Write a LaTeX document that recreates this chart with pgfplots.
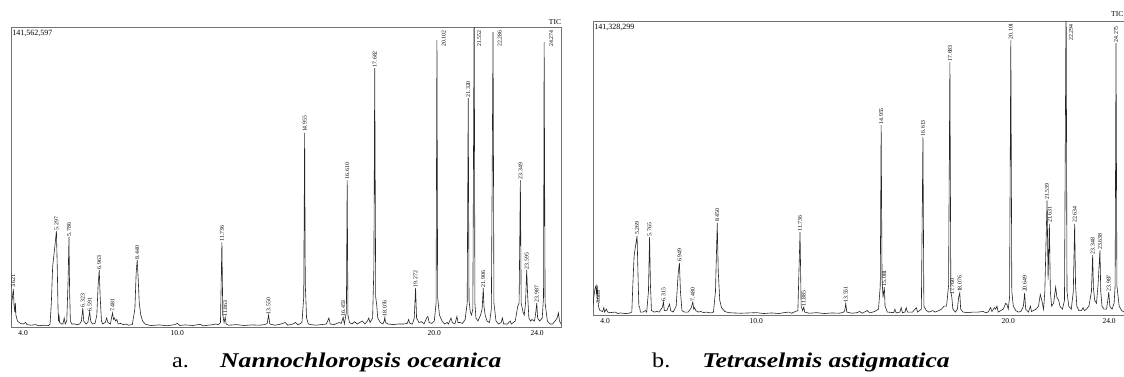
\documentclass[border=0pt]{standalone}
\usepackage{pgfplots}
\pgfplotsset{compat=1.18}
\usepackage{fontspec}
\setmainfont{Liberation Serif}
\newcommand{\lab}{\fontsize{5.8}{6}\selectfont}
\newcommand{\pk}[3]{\node[rotate=90,anchor=west,font=\lab,inner sep=0.8pt] at (axis cs:#1,#2) {#3};}
\newcommand{\pkt}[3]{\node[rotate=90,anchor=east,font=\lab,inner sep=0.8pt] at (axis cs:#1,#2) {#3};}
\pgfplotsset{chrom/.style={
  scale only axis, anchor=south west, ymin=0, ymax=100,
  clip mode=individual,
  axis line style={draw=black!55, line width=0.9pt},
  xtick={4,10,20,24}, xticklabels={4.0,10.0,20.0,24.0},
  ytick=\empty, major tick length=0pt,
  xticklabel style={font=\fontsize{7.5}{8}\selectfont},
  /pgf/number format/assume math mode=true
}}
\begin{document}
\begin{tikzpicture}
\useasboundingbox (0,0) rectangle (1124pt,376pt);
% ---------- a. Nannochloropsis oceanica ----------
\begin{axis}[chrom, at={(11pt,49pt)}, width=550pt, height=300pt, xmin=3.53, xmax=24.93]
\addplot[line width=0.6pt, black!85, sharp plot, mark=none] coordinates {
(3.53,4) (3.56,8) (3.6,11) (3.621,12.7) (3.65,7) (3.68,5) (3.70,8) (3.72,4) (3.78,2) (3.85,1.5) (3.9,1.2) (4.0,1.0) (4.1,1.5) (4.15,0.8) (4.3,0.6) (4.5,0.8) (4.6,0.4) (4.8,0.6) (5.0,0.5)
(5.05,1) (5.1,8) (5.15,20) (5.2,24) (5.25,28) (5.297,32) (5.33,20) (5.36,6) (5.38,2) (5.40,4) (5.42,1.5) (5.5,1) (5.55,1) (5.6,3) (5.64,1) (5.7,2) (5.75,15) (5.786,30) (5.81,12) (5.84,2) (5.9,1) (6.0,1) (6.1,0.8) (6.2,1) (6.27,2) (6.323,6.3) (6.36,2) (6.45,1) (6.52,1.5) (6.591,5) (6.63,2) (6.7,1) (6.8,1.2) (6.87,4) (6.92,14) (6.963,19) (7.0,10) (7.05,2) (7.1,1) (7.2,1.5) (7.25,3) (7.3,1.5) (7.4,1) (7.44,3) (7.481,4.7) (7.52,2.5) (7.56,3) (7.6,2) (7.65,2.5) (7.7,1) (7.8,1.2) (7.9,0.8) (8.0,1) (8.1,0.6) (8.25,0.8) (8.35,6) (8.40,18) (8.440,22.3) (8.48,16) (8.52,8) (8.58,4) (8.65,2) (8.75,1) (8.9,0.6)
(9.0,0.5) (9.3,0.7) (9.6,0.4) (9.9,0.8) (10.0,1.2) (10.1,0.5) (10.3,0.7) (10.6,0.5) (10.9,0.9) (11.0,0.4) (11.2,0.6) (11.4,0.8) (11.5,1) (11.6,0.8) (11.68,1.5) (11.736,28.3) (11.77,4) (11.82,1.5) (11.863,3.3) (11.9,1) (12.0,0.6) (12.3,0.8) (12.6,0.5) (12.9,0.7) (13.2,0.6) (13.4,0.8) (13.5,1.2) (13.55,4) (13.6,1) (13.8,0.6) (14.0,0.9) (14.2,1.5) (14.3,0.6) (14.5,1) (14.6,1.5) (14.7,0.7) (14.85,1.5) (14.92,10) (14.955,64.7) (14.98,14) (15.0,10) (15.03,3) (15.1,1) (15.2,0.8) (15.4,0.6) (15.6,0.8) (15.8,1) (15.9,3) (15.95,1) (16.1,0.8) (16.3,1.5) (16.38,1.2) (16.453,3.3) (16.5,1) (16.58,5) (16.610,49) (16.64,4) (16.7,1.5) (16.8,1) (16.9,1.8) (17.0,1) (17.1,1.5) (17.2,2) (17.3,1) (17.4,2) (17.45,3) (17.5,1.5) (17.6,3) (17.65,20) (17.682,86.3) (17.72,10) (17.76,7.3) (17.8,3) (17.9,1.5) (18.0,1) (18.05,2) (18.076,3.3) (18.1,1.5) (18.2,1) (18.4,0.8) (18.6,1) (18.8,1) (18.95,1.2) (19.0,2.5) (19.05,1.2) (19.15,1) (19.22,3) (19.272,13) (19.31,3) (19.4,1.5) (19.5,1.8) (19.6,1) (19.7,3) (19.75,3.5) (19.8,1.5) (19.9,1.2) (20.0,2) (20.07,8) (20.102,95.7) (20.13,10) (20.2,4) (20.3,2) (20.4,1) (20.5,1.5) (20.55,1) (20.65,3) (20.7,1.5) (20.8,1) (20.88,3.5) (20.92,1.5) (21.0,1.5) (21.1,1.2) (21.2,2.5) (21.28,8) (21.320,76.3) (21.35,9) (21.4,5) (21.45,4) (21.5,6) (21.552,110) (21.58,8) (21.62,3) (21.7,2) (21.8,4) (21.86,6) (21.906,13) (21.93,7) (21.98,4) (22.05,2) (22.15,1.5) (22.22,6) (22.286,98.3) (22.32,8) (22.4,2) (22.5,1) (22.6,1.5) (22.65,3) (22.7,1) (22.85,1) (22.95,2) (23.0,1) (23.15,2) (23.25,7) (23.30,8) (23.349,49) (23.38,8) (23.45,5) (23.5,4) (23.55,8) (23.595,19) (23.63,11) (23.68,3) (23.75,2) (23.8,2.5) (23.9,2) (23.95,5) (23.987,8) (24.02,3) (24.1,2) (24.2,3) (24.25,10) (24.274,95) (24.31,8) (24.4,2) (24.5,1) (24.6,1) (24.7,2) (24.78,3) (24.83,4.7) (24.87,2) (24.93,1)
};
\pk{3.621}{12.7}{3.621}
\pk{5.297}{32}{5.297}
\pk{5.786}{30}{5.786}
\pk{6.323}{6.3}{6.323}
\pk{6.591}{5}{6.591}
\pk{6.963}{19}{6.963}
\pk{7.481}{4.7}{7.481}
\pk{8.440}{22.3}{8.440}
\pk{11.736}{28.3}{11.736}
\pk{11.863}{3.3}{11.863}
\pk{13.55}{4}{13.550}
\pk{14.955}{64.7}{14.955}
\pk{16.453}{3.3}{16.453}
\pk{16.610}{49}{16.610}
\pk{17.682}{86.3}{17.682}
\pk{18.076}{3.3}{18.076}
\pk{19.272}{13}{19.272}
\pkt{20.37}{99.2}{20.102}
\pk{21.320}{76.3}{21.320}
\pkt{21.75}{99.2}{21.552}
\pk{21.906}{13}{21.906}
\pkt{22.55}{99.2}{22.286}
\pk{23.349}{49}{23.349}
\pk{23.595}{19}{23.595}
\pk{23.987}{8}{23.987}
\pkt{24.55}{99.2}{24.274}
\node[anchor=north west,font=\fontsize{8}{8}\selectfont,inner sep=0pt] at (rel axis cs:0.002,0.99) {141,562,597};
\end{axis}
\node[font=\fontsize{7.5}{8}\selectfont,inner sep=0pt] at (555pt,354pt) {TIC};
% ---------- b. Tetraselmis astigmatica ----------
\begin{axis}[chrom, at={(593pt,61pt)}, width=539pt, height=294pt, xmin=3.52, xmax=24.91]
\addplot[line width=0.6pt, black!85, sharp plot, mark=none] coordinates {
(3.52,3) (3.55,6) (3.6,9) (3.64,10) (3.66,7) (3.689,10) (3.71,5) (3.75,2.5) (3.8,1.5) (3.9,1.2) (3.95,2.5) (3.98,1) (4.05,2) (4.1,1) (4.2,0.8) (4.4,1) (4.5,0.5) (4.6,0.7) (4.8,0.5) (4.95,0.6)
(5.06,1) (5.1,10) (5.15,20) (5.2,23) (5.269,27) (5.31,12) (5.34,3) (5.37,2.7) (5.4,1) (5.5,1) (5.6,1.5) (5.65,1) (5.72,8) (5.765,26.5) (5.8,10) (5.84,1.5) (5.95,1) (6.05,1.2) (6.15,1) (6.22,2) (6.27,2.5) (6.315,4.4) (6.35,1.5) (6.45,1.5) (6.52,3) (6.56,3.7) (6.6,1.5) (6.7,1) (6.82,3) (6.9,14) (6.949,17.7) (6.99,8) (7.05,1.5) (7.15,1) (7.3,1) (7.42,2.5) (7.48,4.4) (7.52,2) (7.55,2.5) (7.6,1.5) (7.7,1) (7.8,1.2) (7.9,0.8) (8.0,1) (8.2,0.7) (8.3,1) (8.38,8) (8.45,31.3) (8.49,15) (8.55,5) (8.62,2.5) (8.75,1.2) (8.9,0.8)
(9.1,0.7) (9.4,0.6) (9.7,0.7) (10.0,0.8) (10.3,0.5) (10.6,0.7) (10.9,0.5) (11.1,0.8) (11.3,1) (11.4,0.6) (11.55,1.2) (11.65,1.5) (11.736,28.2) (11.78,3) (11.84,1.5) (11.885,2.7) (11.92,1) (12.1,0.6) (12.4,0.8) (12.7,0.5) (13.0,0.7) (13.3,0.6) (13.45,0.9) (13.51,1.5) (13.551,4) (13.59,1) (13.8,0.6) (14.0,0.8) (14.1,1.2) (14.2,0.6) (14.4,1.5) (14.5,0.7) (14.7,1.2) (14.85,2) (14.92,10) (14.955,64.6) (14.99,12) (15.03,6) (15.081,9.5) (15.11,3) (15.2,1) (15.45,0.8) (15.5,2) (15.55,0.7) (15.7,1) (15.75,2.5) (15.8,0.8) (15.9,1) (15.95,2.5) (16.0,1) (16.2,1) (16.35,2.5) (16.4,1) (16.55,2) (16.613,60.5) (16.65,3) (16.75,1.5) (16.85,1) (17.0,1.5) (17.1,1) (17.25,1.5) (17.35,2) (17.45,3) (17.55,3) (17.63,10) (17.683,86) (17.72,8) (17.76,6) (17.8,2) (17.9,1) (17.98,2) (18.03,6) (18.076,7.5) (18.11,2) (18.2,1) (18.4,0.8) (18.6,1) (18.8,1) (19.0,1.2) (19.1,0.8) (19.2,1) (19.3,2.5) (19.35,1.2) (19.45,2.5) (19.5,2) (19.55,3) (19.6,1) (19.7,1.5) (19.8,2) (19.9,4) (19.95,3.5) (20.0,2) (20.05,6) (20.101,93.5) (20.14,8) (20.2,3) (20.3,1.5) (20.4,1) (20.5,1.2) (20.6,3) (20.649,7.5) (20.69,2) (20.8,1) (20.88,3) (20.92,1.2) (21.0,1.5) (21.1,2) (21.2,3) (21.27,7) (21.33,5) (21.4,2) (21.45,8) (21.539,39) (21.58,12) (21.631,31) (21.67,8) (21.72,3) (21.8,4) (21.88,9.5) (21.93,6) (22.0,5) (22.05,3) (22.15,2) (22.23,5) (22.294,110) (22.33,8) (22.4,3) (22.5,2) (22.58,8) (22.634,31) (22.67,10) (22.72,3) (22.8,1.5) (22.9,1.5) (22.97,2.5) (23.02,1.5) (23.1,2) (23.2,3) (23.3,8) (23.348,20.4) (23.38,9) (23.43,5) (23.5,4) (23.56,10) (23.638,22) (23.67,8) (23.72,3) (23.8,2) (23.9,2) (23.95,5) (23.987,7.8) (24.03,3) (24.12,2) (24.2,4) (24.24,10) (24.275,92.5) (24.31,10) (24.4,3) (24.5,1.5) (24.6,1) (24.75,1) (24.91,1)
};
\pk{3.73}{3.5}{3.689}
\pk{5.269}{27}{5.269}
\pk{5.765}{26.5}{5.765}
\pk{6.315}{4.4}{6.315}
\pk{6.949}{17.7}{6.949}
\pk{7.48}{4.4}{7.480}
\pk{8.45}{31.3}{8.450}
\pk{11.736}{28.2}{11.736}
\pk{11.885}{2.7}{11.885}
\pk{13.551}{4}{13.551}
\pk{14.955}{64.6}{14.955}
\pk{15.081}{9.5}{15.081}
\pk{16.613}{60.5}{16.613}
\pk{17.683}{86}{17.683}
\pk{17.78}{6.5}{17.760}
\pk{18.076}{7.5}{18.076}
\pk{20.101}{93.5}{20.101}
\pk{20.649}{7.5}{20.649}
\pk{21.539}{39}{21.539}
\pk{21.65}{31}{21.631}
\pkt{22.49}{99.2}{22.294}
\pk{22.634}{31}{22.634}
\pk{23.348}{20.4}{23.348}
\pk{23.638}{22}{23.638}
\pk{23.987}{7.8}{23.987}
\pk{24.275}{92.5}{24.275}
\node[anchor=north west,font=\fontsize{8}{8}\selectfont,inner sep=0pt] at (rel axis cs:0.002,0.99) {141,328,299};
\end{axis}
\node[anchor=east,font=\fontsize{7.5}{8}\selectfont,inner sep=0pt] at (1123.5pt,362pt) {TIC};
% ---------- captions ----------
\node[anchor=base west,inner sep=0pt,xscale=1.15,font=\fontsize{21}{21}\selectfont] at (172pt,9pt) {a.};
\node[anchor=base west,inner sep=0pt,xscale=1.22,font=\fontsize{21}{21}\selectfont\bfseries\itshape] at (220pt,9pt) {Nannochloropsis oceanica};
\node[anchor=base west,inner sep=0pt,xscale=1.15,font=\fontsize{21}{21}\selectfont] at (652pt,9pt) {b.};
\node[anchor=base west,inner sep=0pt,xscale=1.22,font=\fontsize{21}{21}\selectfont\bfseries\itshape] at (702pt,9pt) {Tetraselmis astigmatica};
\end{tikzpicture}
\end{document}
